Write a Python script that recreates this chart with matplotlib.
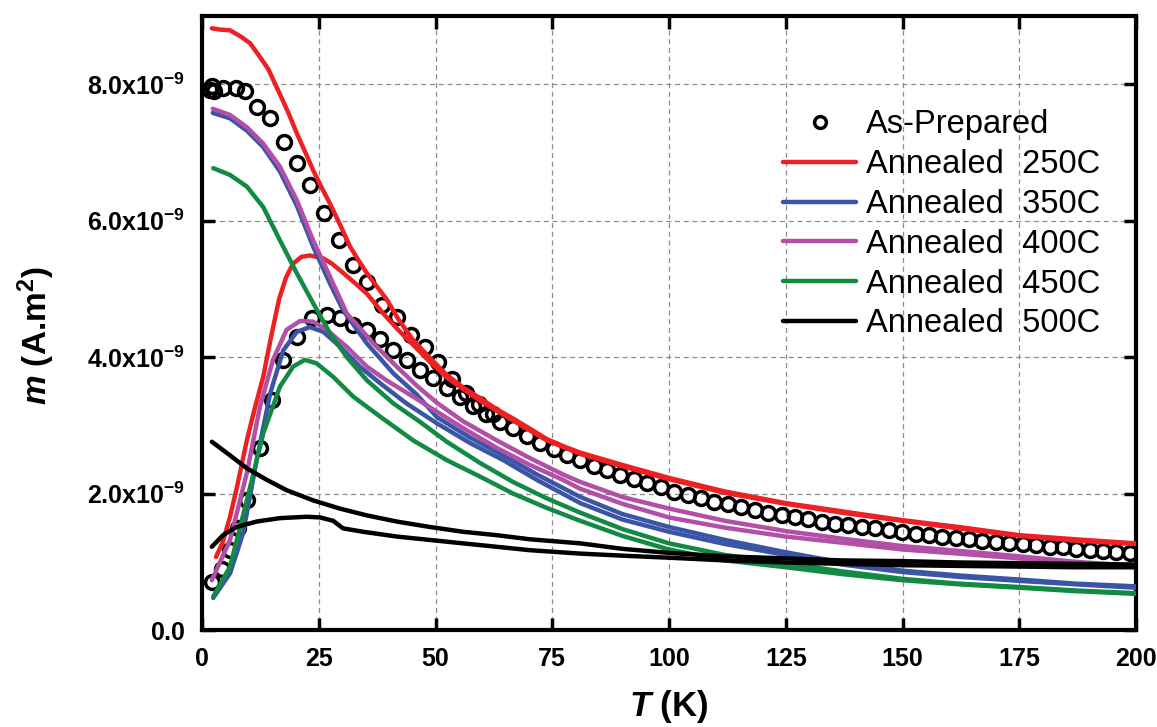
import matplotlib
matplotlib.use("Agg")
import matplotlib.pyplot as plt
import numpy as np

plt.rcParams["font.family"] = ["Liberation Sans", "DejaVu Sans"]
plt.rcParams["mathtext.fontset"] = "custom"
plt.rcParams["mathtext.rm"] = "Liberation Sans"
plt.rcParams["mathtext.bf"] = "Liberation Sans:bold"
plt.rcParams["mathtext.it"] = "Liberation Sans:italic"
plt.rcParams["mathtext.bfit"] = "Liberation Sans:italic:bold"

# m values in units of 1e-9 A.m^2, T in K

# As-prepared (open circles)
ap_zfc_T = [2.1, 4.3, 6.0, 7.8, 9.6, 12.4, 14.9, 17.4, 20.3, 23.5, 26.7, 29.5,
            32.4, 35.3, 38.1, 41.0, 43.9, 46.7, 49.5, 52.4, 55.2, 58.0, 60.9,
            63.8, 66.6, 69.5, 72.4, 75.3, 78.1, 81.0, 83.9, 86.7, 89.6, 92.5, 95.3,
            98.2, 101.1, 104.0, 106.8, 109.7, 112.6, 115.4, 118.3, 121.2, 124.1,
            126.9, 129.8, 132.7, 135.5, 138.4, 141.3, 144.2, 147.0, 149.9, 152.8,
            155.6, 158.5, 161.4, 164.3, 167.1, 170.0, 172.9, 175.7, 178.6, 181.5,
            184.4, 187.2, 190.1, 193.0, 195.8, 198.7]
ap_zfc_m = [0.71, 0.90, 1.17, 1.50, 1.90, 2.67, 3.37, 3.96, 4.30, 4.57, 4.62, 4.57,
            4.47, 4.40, 4.27, 4.10, 3.96, 3.81, 3.69, 3.55, 3.42, 3.28, 3.16,
            3.05, 2.96, 2.85, 2.74, 2.66, 2.57, 2.49, 2.41, 2.34, 2.27, 2.21, 2.15,
            2.09, 2.03, 1.98, 1.93, 1.88, 1.84, 1.80, 1.76, 1.72, 1.69,
            1.66, 1.62, 1.59, 1.56, 1.54, 1.51, 1.49, 1.46, 1.43, 1.41,
            1.40, 1.37, 1.35, 1.34, 1.31, 1.29, 1.27, 1.26, 1.24, 1.22,
            1.21, 1.19, 1.18, 1.16, 1.15, 1.13]
ap_fc_T = [1.8, 2.2, 2.6, 4.5, 7.3, 9.2, 11.8, 14.6, 17.6, 20.3, 23.1, 26.1, 29.3,
           32.3, 35.3, 38.5, 41.7, 44.8, 47.8, 50.6, 53.6, 56.5, 59.4, 62.3]
ap_fc_m = [7.92, 7.98, 7.90, 7.95, 7.95, 7.90, 7.66, 7.51, 7.15, 6.84, 6.52, 6.11, 5.71,
           5.35, 5.10, 4.76, 4.59, 4.33, 4.15, 3.93, 3.68, 3.48, 3.32, 3.16]

# common temperature grid read for the annealed curves (high-T part)
tail_T = [90, 100, 112, 125, 137, 150, 162, 175, 187, 200]

# Annealed 250C
a250_fc_T = [2.1, 4.0, 6.0, 8.5, 10.3, 12.4, 14.2, 16.7, 18.5, 20.3, 22.0, 23.8, 25.5,
             27.4, 29.5, 31.7, 33.5, 35.3, 37.5, 39.6, 42.0, 45.2, 48.8, 52.4, 56.0,
             59.5, 63.0, 66.6, 70.0, 73.8, 77.5, 81.0] + tail_T
a250_fc_m = [8.82, 8.80, 8.79, 8.69, 8.60, 8.40, 8.22, 7.85, 7.58, 7.28, 7.02, 6.74, 6.50,
             6.25, 5.95, 5.62, 5.42, 5.23, 5.03, 4.84, 4.56, 4.25, 3.99, 3.74, 3.55,
             3.40, 3.24, 3.10, 2.96, 2.80, 2.69, 2.60,
             2.42, 2.23, 2.03, 1.86, 1.74, 1.61, 1.51, 1.39, 1.33, 1.27]
a250_zfc_T = [3.0, 4.5, 6.0, 7.5, 9.6, 11.3, 13.1, 14.8, 16.5, 18.0, 19.5, 21.3, 23.1,
              25.9, 27.8, 29.6, 32.5, 35.3, 38.8, 42.0, 45.2, 48.8,
              52.4, 59.5, 66.6, 73.8, 81.0] + tail_T
a250_zfc_m = [1.07, 1.30, 1.66, 2.10, 2.78, 3.25, 3.71, 4.30, 4.85, 5.17, 5.37, 5.47, 5.49,
              5.45, 5.37, 5.27, 5.10, 4.93, 4.64, 4.40, 4.18, 3.93,
              3.70, 3.36, 3.07, 2.78, 2.58,
              2.40, 2.21, 2.01, 1.85, 1.72, 1.60, 1.49, 1.38, 1.31, 1.26]

# Annealed 350C
a350_fc_T = [2.3, 6.0, 9.6, 13.1, 16.7, 20.3, 23.8, 27.4, 30.2, 35.3, 41.0, 46.0, 50.3,
             57.4, 64.5, 71.7, 81.0] + tail_T
a350_fc_m = [7.58, 7.50, 7.32, 7.08, 6.72, 6.22, 5.62, 5.08, 4.69, 4.20, 3.76, 3.45, 3.12,
             2.82, 2.56, 2.28, 1.95,
             1.70, 1.51, 1.32, 1.14, 0.99, 0.87, 0.80, 0.74, 0.68, 0.64]
a350_zfc_T = [2.4, 6.0, 8.8, 11.7, 14.6, 17.4, 20.3, 23.1, 26.0, 29.6, 33.8, 38.1, 43.8,
              50.3, 57.4, 64.5, 71.7, 81.0] + tail_T
a350_zfc_m = [0.47, 0.83, 1.42, 2.49, 3.47, 4.10, 4.37, 4.44, 4.37, 4.15, 3.86, 3.62, 3.32,
              3.03, 2.74, 2.49, 2.20, 1.86,
              1.62, 1.44, 1.26, 1.10, 0.96, 0.85, 0.78, 0.72, 0.67, 0.62]

# Annealed 400C
a400_fc_T = [2.3, 6.0, 9.6, 13.1, 16.7, 20.3, 23.8, 27.4, 31.0, 33.5, 36.7, 41.7, 46.0,
             50.3, 55.9, 63.1, 70.2, 77.3, 81.0] + tail_T
a400_fc_m = [7.64, 7.55, 7.37, 7.13, 6.79, 6.30, 5.71, 5.18, 4.64, 4.45, 4.20, 3.86, 3.58,
             3.33, 3.06, 2.78, 2.52, 2.28, 2.17,
             1.95, 1.78, 1.60, 1.45, 1.34, 1.23, 1.16, 1.08, 1.00, 0.94]
a400_zfc_T = [2.1, 6.0, 9.6, 12.4, 15.2, 18.1, 21.0, 23.8, 26.7, 31.0, 35.3, 39.5, 45.2,
              50.3, 55.9, 63.1, 70.2, 77.3, 81.0] + tail_T
a400_zfc_m = [0.73, 1.32, 2.30, 3.27, 3.96, 4.40, 4.53, 4.52, 4.40, 4.15, 3.86, 3.66, 3.42,
              3.20, 2.96, 2.67, 2.42, 2.20, 2.07,
              1.85, 1.65, 1.50, 1.37, 1.28, 1.18, 1.12, 1.05, 0.98, 0.92]

# Annealed 450C
a450_fc_T = [2.4, 6.0, 9.6, 13.1, 16.7, 20.3, 23.8, 27.4, 31.0, 35.3, 41.0, 46.7, 52.4,
             59.5, 66.6, 73.8, 81.0] + tail_T
a450_fc_m = [6.77, 6.67, 6.50, 6.20, 5.71, 5.23, 4.79, 4.35, 4.00, 3.66, 3.32, 3.05, 2.76,
             2.45, 2.17, 1.93, 1.72,
             1.48, 1.27, 1.10, 0.98, 0.86, 0.75, 0.68, 0.63, 0.58, 0.54]
a450_zfc_T = [2.4, 6.0, 9.6, 13.1, 16.7, 19.5, 22.0, 24.5, 28.1, 32.4, 38.1, 45.2, 52.4,
              59.5, 66.6, 73.8, 81.0] + tail_T
a450_zfc_m = [0.49, 0.93, 1.90, 2.88, 3.57, 3.86, 3.96, 3.91, 3.71, 3.42, 3.13, 2.78, 2.49,
              2.25, 2.00, 1.79, 1.60,
              1.38, 1.18, 1.02, 0.92, 0.82, 0.73, 0.67, 0.62, 0.57, 0.53]

# Annealed 500C
a500_fc_T = [2.1, 6.0, 9.6, 13.9, 18.1, 23.8, 29.5, 35.3, 41.7, 48.8, 55.9, 63.1, 70.2,
             81.0] + tail_T
a500_fc_m = [2.76, 2.56, 2.37, 2.20, 2.05, 1.90, 1.78, 1.68, 1.59, 1.51, 1.44, 1.39, 1.33,
             1.27,
             1.19, 1.13, 1.08, 1.05, 1.02, 1.01, 0.99, 0.98, 0.97, 0.96]
a500_zfc_T = [2.1, 4.5, 7.4, 11.7, 16.7, 22.4, 25.3, 28.1, 30.2, 34.5, 41.7, 48.8, 55.9,
              63.1, 70.2, 81.0] + tail_T
a500_zfc_m = [1.22, 1.39, 1.51, 1.59, 1.64, 1.66, 1.65, 1.60, 1.49, 1.44, 1.37, 1.32, 1.27,
              1.22, 1.17, 1.12,
              1.09, 1.06, 1.02, 0.99, 0.97, 0.95, 0.94, 0.93, 0.92, 0.92]

labels = ["As-Prepared", "Annealed  250C", "Annealed  350C", "Annealed  400C",
          "Annealed  450C", "Annealed  500C"]
colors = ["#ED2024", "#3A55A5", "#B24FA6", "#128A43", "#000000"]

x_ticks = [0, 25, 50, 75, 100, 125, 150, 175, 200]
y_ticks = [0, 2e-9, 4e-9, 6e-9, 8e-9]
y_tick_labels = [r"$\mathbf{0.0}$", r"$\mathbf{2.0x10^{-9}}$", r"$\mathbf{4.0x10^{-9}}$",
                 r"$\mathbf{6.0x10^{-9}}$", r"$\mathbf{8.0x10^{-9}}$"]

unit = 1e-9

fig = plt.figure(figsize=(11.57, 7.27), dpi=100)
ax = fig.add_axes([0.1746, 0.1334, 0.8073, 0.8446])

ax.plot(ap_zfc_T, np.array(ap_zfc_m) * unit, "o", ms=10, mew=2.5, mfc="none",
        mec="black", label=labels[0], zorder=2)
ax.plot(ap_fc_T, np.array(ap_fc_m) * unit, "o", ms=10, mew=2.5, mfc="none",
        mec="black", zorder=2)

curves = [
    (a250_fc_T, a250_fc_m, a250_zfc_T, a250_zfc_m),
    (a350_fc_T, a350_fc_m, a350_zfc_T, a350_zfc_m),
    (a400_fc_T, a400_fc_m, a400_zfc_T, a400_zfc_m),
    (a450_fc_T, a450_fc_m, a450_zfc_T, a450_zfc_m),
    (a500_fc_T, a500_fc_m, a500_zfc_T, a500_zfc_m),
]
for i, (fT, fm, zT, zm) in enumerate(curves):
    ax.plot(fT, np.array(fm) * unit, color=colors[i], lw=3.2, label=labels[i + 1],
            zorder=3, solid_capstyle="round", solid_joinstyle="round")
    ax.plot(zT, np.array(zm) * unit, color=colors[i], lw=3.2, zorder=3,
            solid_capstyle="round", solid_joinstyle="round")

ax.set_xlim(0, 200)
ax.set_ylim(0, 9e-9)
ax.set_xticks(x_ticks)
ax.set_xticklabels([str(t) for t in x_ticks], fontweight="bold")
ax.set_yticks(y_ticks)
ax.set_yticklabels(y_tick_labels)

ax.tick_params(direction="in", length=9, width=2.5, top=True, right=True, pad=12,
               labelsize=18)
for s in ax.spines.values():
    s.set_linewidth(3)

ax.grid(True, color="#8c8c8c", linestyle=(0, (4, 3)), linewidth=0.9)
ax.set_axisbelow(True)

ax.set_xlabel(r"$\mathbfit{T}$ (K)", fontsize=25, fontweight="bold")
ax.set_ylabel(r"$\mathbfit{m}$ (A.m$^{\mathbf{2}}$)", fontsize=24, fontweight="bold")
ax.xaxis.set_label_coords(0.5, -0.095)
ax.yaxis.set_label_coords(-0.155, 0.48)

leg = ax.legend(loc="upper left", bbox_to_anchor=(0.622, 0.848), frameon=False,
                fontsize=23.5, handlelength=2.25, handletextpad=0.3, labelspacing=0.27,
                borderpad=0, borderaxespad=0, markerscale=0.85)

fig.savefig("out.png", dpi=100)
